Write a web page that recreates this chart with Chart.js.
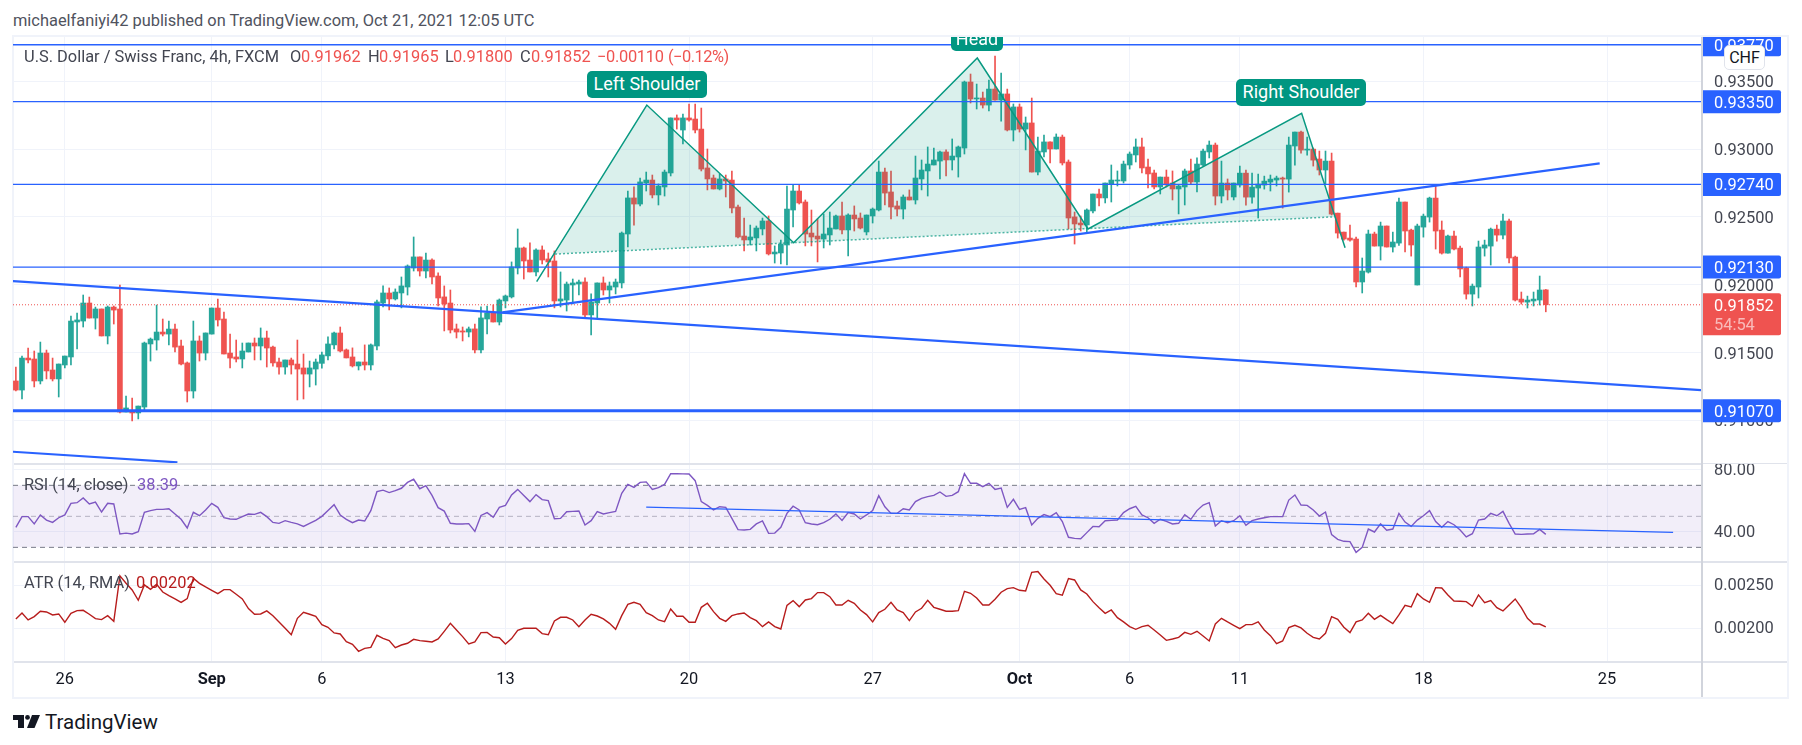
<!DOCTYPE html>
<html lang="en">
<head>
<meta charset="UTF-8">
<title>USD/CHF 4h - head and shoulders</title>
<script src="https://cdn.jsdelivr.net/npm/chart.js"></script>
<style>
    * { margin: 0; padding: 0; box-sizing: border-box; }
    body { width: 1802px; height: 745px; background: #fff; position: relative; overflow: hidden; font-family: Roboto, sans-serif; color: #434651; }
    canvas { position: absolute; left: 13px; display: block; }
    .abs { position: absolute; white-space: nowrap; line-height: 18px; font-size: 16.4px; }
    .red { color: #ef5350; }
    .frame { position: absolute; background: #f0f3fa; }
    .sep { position: absolute; background: #e0e3eb; }
    /* pattern captions, clipped by the top of the price pane like the Head one */
    #captions { position: absolute; left: 13px; top: 37px; width: 1688px; height: 426px; overflow: hidden; }
    .caption { position: absolute; background: #009681; color: #fff; border-radius: 5px; font-size: 18px; text-align: center; }
    #chf { position: absolute; left: 1724px; top: 45px; width: 41px; height: 25px; background: #fff; border: 1px solid #e0e3eb; border-radius: 5px; font-size: 16px; line-height: 23px; text-align: center; color: #131722; }
</style>
</head>
<body>

<div class="abs" id="published" style="left:13px;top:12px;color:#50535e;">michaelfaniyi42 published on TradingView.com, Oct 21, 2021 12:05 UTC</div>

<!-- chart frame -->
<div class="frame" style="left:12px;top:35px;width:1777px;height:2px;"></div>
<div class="frame" style="left:12px;top:697px;width:1777px;height:2px;"></div>
<div class="frame" style="left:12px;top:35px;width:2px;height:664px;"></div>
<div class="frame" style="left:1787px;top:35px;width:2px;height:664px;"></div>

<canvas id="priceChart" style="top:37px"></canvas>
<canvas id="rsiChart" style="top:463px"></canvas>
<canvas id="atrChart" style="top:563px"></canvas>

<div class="sep" style="left:14px;top:463px;width:1688px;height:2px;"></div>
<div class="sep" style="left:1702px;top:463px;width:85px;height:1px;"></div>
<div class="sep" style="left:14px;top:561px;width:1773px;height:2px;"></div>
<div class="sep" style="left:14px;top:661px;width:1773px;height:2px;"></div>
<div class="sep" style="left:1701px;top:37px;width:2px;height:660px;background:#d1d4dc;"></div>

<div id="captions">
    <div class="caption" style="left:574px;top:34px;width:120px;height:27px;line-height:26px;">Left Shoulder</div>
    <div class="caption" style="left:938px;top:-9px;width:52px;height:23px;line-height:22px;">Head</div>
    <div class="caption" style="left:1223px;top:42px;width:130px;height:27px;line-height:26px;">Right Shoulder</div>
</div>

<!-- legends -->
<div class="abs" style="left:24px;top:48px;">U.S. Dollar / Swiss Franc, 4h, FXCM</div>
<div class="abs" style="left:290px;top:48px;">O</div><div class="abs red" style="left:301px;top:48px;">0.91962</div>
<div class="abs" style="left:368px;top:48px;">H</div><div class="abs red" style="left:379px;top:48px;">0.91965</div>
<div class="abs" style="left:445px;top:48px;">L</div><div class="abs red" style="left:453px;top:48px;">0.91800</div>
<div class="abs" style="left:520px;top:48px;">C</div><div class="abs red" style="left:531px;top:48px;">0.91852</div>
<div class="abs red" style="left:597px;top:48px;letter-spacing:-0.3px;">−0.00110</div>
<div class="abs red" style="left:668px;top:48px;letter-spacing:-0.5px;">(−0.12%)</div>

<div class="abs" style="left:24px;top:476px;">RSI (14, close)</div>
<div class="abs" style="left:137px;top:476px;color:#7e57c2;">38.39</div>
<div class="abs" style="left:24px;top:574px;">ATR (14, RMA)</div>
<div class="abs" style="left:136px;top:574px;color:#b71c1c;">0.00202</div>

<div id="chf">CHF</div>

<svg style="position:absolute;left:13px;top:715px;" width="27" height="13" viewBox="0 0 27 13">
    <path fill="#131722" d="M0 0H11V13H5V5H0Z"/>
    <circle fill="#131722" cx="14.5" cy="2.4" r="2.4"/>
    <path fill="#131722" d="M19 0H27L21.5 13H14Z"/>
</svg>
<div class="abs" style="left:45px;top:710px;font-size:20.5px;line-height:24px;color:#131722;">TradingView</div>

<script>
// Bar number 0 is the first candle on the left, one bar = 4 hours
const opens = [
    0.91290,0.91223,0.91459,0.91452,0.91290,0.91496,0.91371,0.91305,0.91408,0.91467,
    0.91725,0.91732,0.91865,0.91754,0.91821,0.91622,0.91835,0.91821,0.91061,0.91069,
    0.91054,0.91098,0.91563,0.91592,0.91651,0.91636,0.91673,0.91548,0.91423,0.91216,
    0.91585,0.91496,0.91636,0.91828,0.91747,0.91496,0.91467,0.91452,0.91504,0.91570,
    0.91548,0.91607,0.91540,0.91430,0.91393,0.91445,0.91415,0.91386,0.91341,0.91378,
    0.91420,0.91475,0.91556,0.91644,0.91519,0.91467,0.91401,0.91430,0.91408,0.91548,
    0.91865,0.91939,0.91895,0.91939,0.91983,0.92123,0.92205,0.92101,0.92182,0.92064,
    0.91910,0.91865,0.91674,0.91659,0.91651,0.91674,0.91519,0.91747,0.91792,0.91725,
    0.91880,0.91910,0.92123,0.92271,0.92182,0.92094,0.92256,0.92190,0.92175,0.91880,
    0.91887,0.91998,0.92005,0.92020,0.91777,0.91865,0.92013,0.91961,0.91983,0.92013,
    0.92374,0.92640,0.92595,0.92750,0.92772,0.92662,0.92721,0.92824,0.93230,0.93141,
    0.93230,0.93222,0.93148,0.92861,0.92787,0.92706,0.92780,0.92772,0.92573,0.92359,
    0.92330,0.92345,0.92411,0.92470,0.92227,0.92234,0.92293,0.92551,0.92691,0.92610,
    0.92381,0.92359,0.92337,0.92367,0.92411,0.92507,0.92404,0.92514,0.92492,0.92389,
    0.92507,0.92551,0.92831,0.92684,0.92581,0.92558,0.92647,0.92625,0.92780,0.92839,
    0.92883,0.92912,0.92979,0.92920,0.92942,0.93008,0.93495,0.93370,0.93377,0.93325,
    0.93443,0.93362,0.93407,0.93141,0.93311,0.93148,0.93193,0.92831,0.92979,0.93053,
    0.93001,0.93089,0.92905,0.92500,0.92455,0.92441,0.92544,0.92669,0.92640,0.92743,
    0.92765,0.92765,0.92883,0.92957,0.93016,0.92868,0.92824,0.92721,0.92794,0.92750,
    0.92706,0.92721,0.92839,0.92758,0.92883,0.92979,0.93030,0.92654,0.92750,0.92647,
    0.92735,0.92823,0.92646,0.92713,0.92735,0.92757,0.92772,0.92787,0.92779,0.93023,
    0.93126,0.92993,0.93000,0.92927,0.92846,0.92912,0.92528,0.92388,0.92344,0.92337,
    0.92020,0.92093,0.92374,0.92285,0.92433,0.92278,0.92307,0.92610,0.92403,0.91998,
    0.92425,0.92499,0.92639,0.92403,0.92233,0.92359,0.92270,0.92123,0.91931,0.91983,
    0.92270,0.92285,0.92410,0.92366,0.92470,0.92204,0.91894,0.91872,0.91880,0.91887,0.91962
];
const highs = [
    0.91393,0.91474,0.91533,0.91511,0.91577,0.91518,0.91459,0.91415,0.91474,0.91769,
    0.91791,0.91924,0.91909,0.91835,0.91821,0.91843,0.91843,0.91998,0.91179,0.91164,
    0.91105,0.91577,0.91607,0.91850,0.91747,0.91732,0.91710,0.91592,0.91430,0.91732,
    0.91622,0.91644,0.91828,0.91894,0.91799,0.91636,0.91592,0.91570,0.91570,0.91607,
    0.91681,0.91658,0.91548,0.91459,0.91445,0.91459,0.91592,0.91489,0.91437,0.91452,
    0.91504,0.91615,0.91651,0.91688,0.91526,0.91534,0.91430,0.91556,0.91563,0.91887,
    0.91991,0.91976,0.91969,0.92057,0.92146,0.92352,0.92205,0.92234,0.92190,0.92087,
    0.91991,0.91961,0.91710,0.91688,0.91688,0.91710,0.91836,0.91843,0.91851,0.91895,
    0.91924,0.92168,0.92411,0.92278,0.92308,0.92264,0.92286,0.92234,0.92249,0.92094,
    0.92020,0.92042,0.92035,0.92050,0.91932,0.92013,0.92057,0.92020,0.92042,0.92389,
    0.92691,0.92721,0.92787,0.92831,0.92809,0.92743,0.92846,0.93230,0.93252,0.93259,
    0.93333,0.93333,0.93303,0.93001,0.92809,0.92817,0.92809,0.92839,0.92588,0.92492,
    0.92440,0.92433,0.92492,0.92507,0.92286,0.92330,0.92728,0.92735,0.92735,0.92625,
    0.92551,0.92485,0.92522,0.92536,0.92514,0.92610,0.92522,0.92581,0.92529,0.92514,
    0.92566,0.92912,0.92861,0.92839,0.92617,0.92662,0.92699,0.92949,0.92920,0.93016,
    0.93008,0.92986,0.92994,0.93075,0.93023,0.93502,0.93554,0.93480,0.93421,0.93510,
    0.93687,0.93561,0.93443,0.93333,0.93333,0.93237,0.93377,0.93089,0.93104,0.93053,
    0.93112,0.93104,0.92920,0.92536,0.92507,0.92559,0.92669,0.92706,0.92750,0.92883,
    0.92839,0.92912,0.92979,0.93075,0.93082,0.92927,0.92846,0.92794,0.92846,0.92839,
    0.92736,0.92853,0.92927,0.92935,0.93001,0.93060,0.93045,0.92912,0.92780,0.92750,
    0.92875,0.92846,0.92823,0.92816,0.92801,0.92809,0.92801,0.92794,0.93089,0.93126,
    0.93133,0.93089,0.93008,0.92986,0.92986,0.92971,0.92528,0.92388,0.92440,0.92351,
    0.92197,0.92403,0.92388,0.92462,0.92433,0.92388,0.92639,0.92610,0.92410,0.92447,
    0.92521,0.92646,0.92735,0.92470,0.92366,0.92396,0.92285,0.92130,0.92005,0.92322,
    0.92329,0.92418,0.92440,0.92521,0.92484,0.92211,0.91946,0.91916,0.91946,0.92064,0.91965
];
const lows = [
    0.91216,0.91157,0.91423,0.91246,0.91268,0.91305,0.91290,0.91172,0.91386,0.91408,
    0.91526,0.91688,0.91754,0.91673,0.91622,0.91563,0.91710,0.91054,0.91061,0.90995,
    0.91010,0.91076,0.91437,0.91518,0.91622,0.91555,0.91504,0.91408,0.91135,0.91164,
    0.91437,0.91445,0.91636,0.91695,0.91489,0.91386,0.91430,0.91386,0.91504,0.91445,
    0.91445,0.91393,0.91400,0.91341,0.91341,0.91341,0.91150,0.91157,0.91246,0.91260,
    0.91384,0.91445,0.91526,0.91504,0.91460,0.91393,0.91371,0.91371,0.91371,0.91519,
    0.91836,0.91814,0.91887,0.91829,0.91924,0.92101,0.92064,0.92050,0.92005,0.91843,
    0.91659,0.91644,0.91607,0.91585,0.91615,0.91497,0.91497,0.91637,0.91725,0.91703,
    0.91829,0.91902,0.92079,0.92042,0.92094,0.92064,0.92153,0.92057,0.91829,0.91836,
    0.91806,0.91858,0.91924,0.91755,0.91629,0.91755,0.91924,0.91865,0.91932,0.91976,
    0.92278,0.92440,0.92581,0.92691,0.92640,0.92588,0.92654,0.92802,0.93148,0.93038,
    0.93207,0.93119,0.92839,0.92699,0.92706,0.92699,0.92647,0.92529,0.92345,0.92249,
    0.92293,0.92249,0.92367,0.92219,0.92160,0.92153,0.92146,0.92426,0.92595,0.92286,
    0.92286,0.92168,0.92271,0.92293,0.92411,0.92374,0.92212,0.92396,0.92411,0.92367,
    0.92455,0.92544,0.92588,0.92485,0.92507,0.92485,0.92625,0.92595,0.92699,0.92654,
    0.92883,0.92780,0.92802,0.92846,0.92794,0.92964,0.93340,0.93296,0.93303,0.93281,
    0.93362,0.93207,0.93134,0.93060,0.93126,0.92994,0.92831,0.92809,0.92942,0.92898,
    0.93001,0.92883,0.92411,0.92300,0.92396,0.92389,0.92529,0.92581,0.92603,0.92610,
    0.92728,0.92750,0.92853,0.92905,0.92824,0.92713,0.92706,0.92669,0.92721,0.92625,
    0.92522,0.92588,0.92743,0.92684,0.92876,0.92935,0.92588,0.92603,0.92625,0.92625,
    0.92720,0.92587,0.92602,0.92492,0.92705,0.92691,0.92728,0.92565,0.92683,0.92882,
    0.92971,0.92956,0.92875,0.92809,0.92742,0.92514,0.92344,0.92329,0.92322,0.91983,
    0.91939,0.92086,0.92285,0.92182,0.92278,0.92241,0.92290,0.92241,0.92211,0.91998,
    0.92351,0.92462,0.92263,0.92226,0.92233,0.92256,0.92057,0.91894,0.91843,0.91902,
    0.92211,0.92145,0.92322,0.92337,0.92160,0.91880,0.91857,0.91828,0.91843,0.91850,0.91800
];
const closes = [
    0.91223,0.91459,0.91445,0.91290,0.91496,0.91364,0.91305,0.91415,0.91474,0.91732,
    0.91740,0.91865,0.91754,0.91821,0.91622,0.91835,0.91813,0.91061,0.91091,0.91054,
    0.91105,0.91570,0.91599,0.91651,0.91636,0.91673,0.91540,0.91415,0.91216,0.91585,
    0.91496,0.91644,0.91828,0.91740,0.91489,0.91459,0.91452,0.91511,0.91570,0.91548,
    0.91607,0.91533,0.91423,0.91393,0.91445,0.91408,0.91378,0.91341,0.91386,0.91430,
    0.91482,0.91563,0.91644,0.91511,0.91460,0.91401,0.91430,0.91408,0.91556,0.91873,
    0.91939,0.91895,0.91946,0.91991,0.92138,0.92205,0.92101,0.92182,0.92057,0.91902,
    0.91858,0.91666,0.91651,0.91651,0.91674,0.91519,0.91755,0.91792,0.91725,0.91887,
    0.91917,0.92131,0.92271,0.92175,0.92094,0.92256,0.92182,0.92168,0.91880,0.91895,
    0.92005,0.92013,0.92020,0.91777,0.91873,0.92013,0.91961,0.91991,0.92020,0.92381,
    0.92640,0.92595,0.92758,0.92772,0.92662,0.92728,0.92831,0.93230,0.93215,0.93230,
    0.93215,0.93141,0.92853,0.92780,0.92706,0.92780,0.92765,0.92566,0.92352,0.92330,
    0.92352,0.92418,0.92470,0.92227,0.92241,0.92300,0.92558,0.92691,0.92603,0.92374,
    0.92352,0.92337,0.92374,0.92418,0.92507,0.92404,0.92514,0.92485,0.92418,0.92514,
    0.92558,0.92831,0.92676,0.92573,0.92558,0.92647,0.92625,0.92787,0.92846,0.92890,
    0.92920,0.92979,0.92920,0.92949,0.93016,0.93495,0.93370,0.93377,0.93325,0.93443,
    0.93362,0.93407,0.93141,0.93311,0.93148,0.93193,0.92831,0.92986,0.93053,0.93001,
    0.93089,0.92898,0.92492,0.92448,0.92441,0.92551,0.92669,0.92640,0.92750,0.92772,
    0.92772,0.92890,0.92964,0.93016,0.92861,0.92817,0.92721,0.92794,0.92736,0.92706,
    0.92728,0.92839,0.92758,0.92890,0.92986,0.93030,0.92654,0.92750,0.92699,0.92750,
    0.92823,0.92646,0.92720,0.92742,0.92764,0.92779,0.92787,0.92779,0.93030,0.93126,
    0.92993,0.93000,0.92919,0.92846,0.92912,0.92521,0.92381,0.92337,0.92329,0.92020,
    0.92101,0.92374,0.92285,0.92433,0.92278,0.92315,0.92610,0.92396,0.92293,0.92433,
    0.92506,0.92639,0.92396,0.92233,0.92359,0.92263,0.92116,0.91931,0.91990,0.92278,
    0.92293,0.92410,0.92366,0.92470,0.92197,0.91887,0.91872,0.91887,0.91894,0.91961,0.91852
];
const rsiValues = [
    42.9,49.8,49.8,45.1,50.9,47.6,46.1,49.1,50.9,58.4,
    58.8,61.8,58.0,59.2,52.8,58.4,58.0,38.6,39.2,38.6,
    40.1,52.6,53.7,54.5,54.5,54.9,51.5,48.1,42.5,52.6,
    50.4,54.1,58.4,55.8,49.1,48.3,48.1,49.8,51.5,51.3,
    52.6,49.8,46.1,45.5,47.2,46.1,45.1,43.5,45.5,47.4,
    50.0,53.7,57.5,50.9,48.1,45.9,47.6,47.0,53.7,65.9,
    66.9,65.3,66.6,68.1,71.9,73.9,67.8,69.8,63.5,55.6,
    53.4,45.5,45.1,45.1,45.3,40.3,50.6,52.4,49.4,55.8,
    57.1,63.8,67.4,63.5,59.5,64.0,60.8,60.1,48.5,48.7,
    53.0,53.2,53.4,44.4,47.2,53.0,51.5,52.4,53.2,64.8,
    70.6,68.7,71.9,72.2,67.4,68.5,70.6,77.5,77.5,77.4,
    77.3,73.0,59.5,57.1,54.1,56.2,55.8,48.7,41.4,41.2,
    41.6,45.1,47.0,39.0,39.2,42.9,51.9,56.5,54.1,45.9,
    45.1,44.6,45.9,48.1,51.5,47.4,52.4,51.5,48.3,50.9,
    53.7,63.3,56.2,51.9,51.9,54.9,54.1,59.5,61.6,62.7,
    63.5,65.7,62.9,63.5,65.9,77.5,71.3,71.3,69.1,71.3,
    67.4,68.3,55.8,61.0,54.5,55.6,44.4,48.7,51.1,49.8,
    52.4,46.6,36.5,35.8,35.6,39.5,43.5,43.3,47.2,47.4,
    47.6,52.4,54.9,56.5,50.9,49.1,45.5,48.1,46.8,45.1,
    45.5,51.1,48.1,53.7,57.3,58.8,43.8,47.2,45.9,47.2,
    50.4,44.2,47.2,48.3,49.1,49.8,49.8,49.8,60.5,63.8,
    57.3,57.1,54.1,50.2,52.8,38.2,35.2,33.9,33.7,26.8,
    30.0,41.8,39.9,45.1,41.0,41.8,51.9,46.3,43.5,47.6,
    50.4,53.7,46.6,42.9,46.6,44.6,41.2,36.7,38.8,47.6,
    48.3,51.9,50.4,53.2,45.5,38.6,38.4,38.6,38.8,41.6,38.39
];
const atrValues = [
    0.002109,0.002178,0.002097,0.002136,0.002198,0.002190,0.002155,0.002167,0.002070,0.002174,
    0.002205,0.002209,0.002163,0.002112,0.002101,0.002147,0.002081,0.002609,0.002523,0.002446,
    0.002326,0.002504,0.002453,0.002512,0.002422,0.002380,0.002341,0.002302,0.002345,0.002581,
    0.002523,0.002481,0.002442,0.002403,0.002450,0.002450,0.002395,0.002341,0.002229,0.002163,
    0.002167,0.002202,0.002147,0.002074,0.002000,0.001926,0.002116,0.002186,0.002163,0.002140,
    0.002043,0.002012,0.001946,0.001934,0.001845,0.001814,0.001733,0.001767,0.001779,0.001919,
    0.001884,0.001857,0.001775,0.001806,0.001826,0.001872,0.001857,0.001849,0.001841,0.001876,
    0.001965,0.002058,0.001981,0.001903,0.001818,0.001841,0.001950,0.001953,0.001899,0.001891,
    0.001818,0.001880,0.001977,0.002000,0.002000,0.002000,0.001938,0.001926,0.002085,0.002128,
    0.002128,0.002097,0.002019,0.002097,0.002163,0.002143,0.002109,0.002058,0.001988,0.002147,
    0.002279,0.002302,0.002279,0.002182,0.002147,0.002097,0.002078,0.002225,0.002140,0.002140,
    0.002070,0.002070,0.002244,0.002291,0.002194,0.002116,0.002081,0.002147,0.002167,0.002178,
    0.002124,0.002089,0.002019,0.002074,0.002019,0.001992,0.002267,0.002322,0.002252,0.002329,
    0.002345,0.002415,0.002415,0.002368,0.002271,0.002271,0.002326,0.002291,0.002213,0.002159,
    0.002074,0.002182,0.002221,0.002302,0.002213,0.002182,0.002089,0.002190,0.002233,0.002326,
    0.002244,0.002221,0.002198,0.002198,0.002205,0.002430,0.002407,0.002353,0.002271,0.002271,
    0.002337,0.002419,0.002461,0.002473,0.002442,0.002434,0.002651,0.002659,0.002574,0.002500,
    0.002403,0.002384,0.002578,0.002562,0.002446,0.002399,0.002310,0.002240,0.002174,0.002213,
    0.002124,0.002074,0.002019,0.001988,0.002019,0.002035,0.001981,0.001922,0.001860,0.001876,
    0.001895,0.001953,0.001930,0.001965,0.001911,0.001853,0.002050,0.002116,0.002074,0.002035,
    0.001996,0.002043,0.002043,0.002074,0.001981,0.001915,0.001822,0.001853,0.002008,0.002035,
    0.002004,0.001942,0.001895,0.001876,0.001942,0.002136,0.002105,0.002012,0.001950,0.002074,
    0.002097,0.002174,0.002105,0.002151,0.002101,0.002054,0.002155,0.002267,0.002248,0.002403,
    0.002341,0.002302,0.002473,0.002469,0.002388,0.002318,0.002314,0.002310,0.002256,0.002388,
    0.002298,0.002322,0.002240,0.002202,0.002271,0.002341,0.002240,0.002116,0.002050,0.002050,0.002016
];

// axis ticks
const timeTickBars = [8, 32, 50, 80, 110, 140, 164, 182, 200, 230, 260];
const timeTickLabels = ['26', 'Sep', '6', '13', '20', '27', 'Oct', '6', '11', '18', '25'];
const priceTicks = [0.91, 0.915, 0.92, 0.925, 0.93, 0.935];
const rsiTicks = [40, 80];
const atrTicks = [0.002, 0.0025];

// drawn levels, trend lines (bar number, price) and the head and shoulders outline
const levelPrices = [0.9377, 0.9335, 0.9274, 0.9213, 0.9107];
const lastPrice = 0.91852;
const fallingTrendBars = [-0.5, 275.4];
const fallingTrendPrices = [0.92027, 0.91223];
const risingTrendBars = [79.5, 258.8];
const risingTrendPrices = [0.91796, 0.92895];
const lowerTrendBars = [-0.5, 26.4];
const lowerTrendPrices = [0.90768, 0.9069];
const patternBars = [85.1, 103.1, 127.1, 157.1, 175.2, 210.1, 217.2];
const patternPrices = [0.92022, 0.93325, 0.9231, 0.93672, 0.92411, 0.93264, 0.92273];
const fillBars = [88.1, 103.1, 127.1, 157.1, 175.2, 210.1, 215.5];
const fillPrices = [0.92226, 0.93325, 0.9231, 0.93672, 0.92411, 0.93264, 0.92501];
const rsiTrendBars = [103, 270.8];
const rsiTrendValues = [56, 39.7];
const rsiBandLevels = [70, 50, 30];

// visible range of the panes
const firstBar = -0.47, lastBar = 275.36;
const GREEN = '#26a69a', RED = '#ef5350', BLUE = '#2962ff', TEAL = '#089981';
const AXIS_WIDTH = 86;
const FONT = 'Roboto, sans-serif';
const TICK_SIZE = 16.4;

const toPoints = (xs, ys) => xs.map((x, i) => ({ x: x, y: ys[i] }));
const flat = (y) => [{ x: firstBar, y: y }, { x: lastBar, y: y }];

function lineSet(data, color, width, order, extra) {
    return Object.assign({
        type: 'line', data: data, borderColor: color, borderWidth: width, order: order,
        pointRadius: 0, tension: 0, fill: false, borderCapStyle: 'butt'
    }, extra || {});
}

function xAxis(showLabels) {
    return {
        type: 'linear', min: firstBar, max: lastBar, offset: false,
        afterBuildTicks: (s) => { s.ticks = timeTickBars.map((v) => ({ value: v })); },
        afterFit: (s) => { s.height = showLabels ? 36 : 0; s.paddingLeft = 0; s.paddingRight = 0; },
        grid: { color: '#f0f3fa', drawTicks: false, offset: false },
        border: { display: false },
        ticks: {
            display: showLabels, autoSkip: false, maxRotation: 0, padding: 9, color: '#131722',
            callback: (v) => timeTickLabels[timeTickBars.indexOf(v)],
            font: (ctx) => {
                const label = ctx.tick ? timeTickLabels[timeTickBars.indexOf(ctx.tick.value)] : '';
                return { family: FONT, size: TICK_SIZE, weight: (label === 'Sep' || label === 'Oct') ? 'bold' : 'normal' };
            }
        }
    };
}

function yAxis(min, max, tickValues, digits, labelShift) {
    return {
        position: 'right', min: min, max: max, bounds: 'data',
        afterBuildTicks: (s) => { s.ticks = tickValues.map((v) => ({ value: v })); },
        // the label padding chart.js reserves above and below would shrink the pane
        afterFit: (s) => { s.width = AXIS_WIDTH; s.paddingTop = 0; s.paddingBottom = 0; },
        grid: { color: '#f0f3fa', tickLength: 13, tickColor: 'transparent' },
        border: { display: false },
        ticks: {
            padding: 0, color: '#434651', labelOffset: labelShift,
            font: { family: FONT, size: TICK_SIZE },
            callback: (v) => v.toFixed(digits)
        }
    };
}

const baseOptions = {
    responsive: false, animation: false, events: [], devicePixelRatio: 1,
    layout: { padding: 0, autoPadding: false },
    plugins: { legend: { display: false }, tooltip: { enabled: false } }
};

// price tags on the right axis, on top of the tick labels
const priceTags = {
    id: 'priceTags',
    afterDraw(chart) {
        const ctx = chart.ctx, y = chart.scales.y, left = chart.chartArea.right;
        ctx.save();
        ctx.textBaseline = 'middle';
        ctx.font = TICK_SIZE + 'px ' + FONT;
        levelPrices.forEach((price) => {
            const py = y.getPixelForValue(price);
            ctx.fillStyle = BLUE;
            ctx.beginPath();
            ctx.roundRect(left, py - 11.5, 80, 23, [0, 2, 2, 0]);
            ctx.fill();
            ctx.fillStyle = '#fff';
            ctx.fillText(price.toFixed(5), left + 13, py + 2);
        });
        const py = y.getPixelForValue(lastPrice);
        ctx.fillStyle = RED;
        ctx.beginPath();
        ctx.roundRect(left, py - 11.5, 80, 42, [0, 2, 2, 0]);
        ctx.fill();
        ctx.fillStyle = '#fff';
        ctx.fillText(lastPrice.toFixed(5), left + 13, py + 2);
        ctx.fillStyle = 'rgba(255,255,255,0.6)';
        ctx.fillText('54:54', left + 13, py + 21);
        ctx.restore();
    }
};

const candleColors = closes.map((c, i) => (c >= opens[i] ? GREEN : RED));
const levelSets = levelPrices.map((p, i) => lineSet(flat(p), BLUE, i === levelPrices.length - 1 ? 3 : 1.3, 1));

function sizeCanvas(id, height) {
    const c = document.getElementById(id);
    c.width = 1774;
    c.height = height;
    c.style.width = '1774px';
    c.style.height = height + 'px';
    return c;
}

new Chart(sizeCanvas('priceChart', 426), {
    type: 'bar',
    data: {
        datasets: [
            ...levelSets,
            lineSet(toPoints(fallingTrendBars, fallingTrendPrices), BLUE, 2.2, 1),
            lineSet(toPoints(risingTrendBars, risingTrendPrices), BLUE, 2.2, 1),
            lineSet(toPoints(lowerTrendBars, lowerTrendPrices), BLUE, 2.2, 1),
            lineSet(toPoints(patternBars, patternPrices), TEAL, 1.5, 2),
            lineSet(toPoints([fillBars[0], fillBars[6]], [fillPrices[0], fillPrices[6]]), 'rgba(8,153,129,0.7)', 1.5, 2, { borderDash: [2, 2] }),
            lineSet(toPoints(fillBars, fillPrices), 'rgba(0,0,0,0)', 0, 3, { fill: 'shape', backgroundColor: 'rgba(8,153,129,0.15)' }),
            lineSet(flat(lastPrice), RED, 1, 4, { borderDash: [1, 2] }),
            {
                type: 'bar', order: 5, grouped: false, barThickness: 5, minBarLength: 1,
                data: opens.map((o, i) => ({ x: i, y: [o, closes[i]] })),
                backgroundColor: candleColors, borderWidth: 0
            },
            {
                type: 'bar', order: 6, grouped: false, barThickness: 1,
                data: lows.map((l, i) => ({ x: i, y: [l, highs[i]] })),
                backgroundColor: candleColors, borderWidth: 0
            }
        ]
    },
    options: Object.assign({}, baseOptions, {
        scales: { x: xAxis(false), y: yAxis(0.90685, 0.93827, priceTicks, 5, 2) }
    }),
    plugins: [priceTags]
});

new Chart(sizeCanvas('rsiChart', 98), {
    type: 'line',
    data: {
        datasets: [
            lineSet(toPoints(rsiTrendBars, rsiTrendValues), BLUE, 1.3, 0),
            lineSet(rsiValues.map((v, i) => ({ x: i, y: v })), '#7e57c2', 1.4, 1),
            // band fill runs from the 70 line down to the 30 line
            lineSet(flat(rsiBandLevels[0]), '#787b86', 1, 2, { borderDash: [5, 4], fill: { target: { value: rsiBandLevels[2] } }, backgroundColor: 'rgba(126,87,194,0.1)' }),
            lineSet(flat(rsiBandLevels[1]), 'rgba(120,123,134,0.5)', 1, 2, { borderDash: [5, 4] }),
            lineSet(flat(rsiBandLevels[2]), '#787b86', 1, 2, { borderDash: [5, 4] })
        ]
    },
    options: Object.assign({}, baseOptions, {
        scales: { x: xAxis(false), y: yAxis(21.2, 84.4, rsiTicks, 2, 1) }
    })
});

new Chart(sizeCanvas('atrChart', 134), {
    type: 'line',
    data: {
        datasets: [
            lineSet(atrValues.map((v, i) => ({ x: i, y: v })), '#b71c1c', 1.4, 0)
        ]
    },
    options: Object.assign({}, baseOptions, {
        scales: { x: xAxis(true), y: yAxis(0.00162, 0.002759, atrTicks, 5, 1) }
    })
});
</script>
</body>
</html>
